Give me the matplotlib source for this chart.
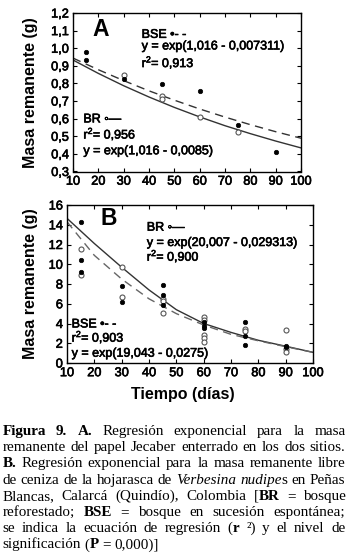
import re
import matplotlib
matplotlib.use('Agg')
import matplotlib.pyplot as plt
import matplotlib.patheffects as pe
from matplotlib.transforms import IdentityTransform
from matplotlib.ticker import FuncFormatter, MultipleLocator

plt.rcParams['font.family'] = ['Liberation Sans', 'DejaVu Sans']
plt.rcParams['mathtext.default'] = 'regular'

# ---------------------------------------------------------------------------
# values
fit_days = [10, 20, 30, 40, 50, 60, 70, 80, 90, 100]

# A: papel Jecaber
a_bse_days = [15, 15, 30, 45, 60, 75, 90]
a_bse_mass = [0.98, 0.935, 0.825, 0.795, 0.755, 0.565, 0.41]
a_br_days = [30, 45, 45, 60, 75]
a_br_mass = [0.85, 0.73, 0.71, 0.61, 0.525]
a_br_fit = [0.933, 0.857, 0.787, 0.723, 0.664, 0.610, 0.560, 0.515, 0.473, 0.434]
a_bse_fit = [0.944, 0.878, 0.816, 0.758, 0.705, 0.655, 0.609, 0.566, 0.526, 0.489]

# B: hojarasca de Verbesina nudipes
b_bse_days = [15, 15, 15, 30, 30, 45, 45, 45, 60, 60, 60, 75, 75, 75, 90, 90]
b_bse_mass = [14.3, 10.4, 9.2, 7.8, 6.15, 7.9, 6.9, 5.9, 4.2, 3.75, 3.5, 4.2, 2.75, 1.8, 1.7, 1.6]
b_br_days = [15, 15, 30, 30, 45, 45, 45, 60, 60, 60, 60, 60, 75, 75, 90, 90, 90]
b_br_mass = [11.5, 8.9, 9.7, 6.7, 6.5, 6.3, 5.1, 4.7, 4.35, 2.8, 2.5, 2.15, 3.45, 3.2, 3.35, 1.4, 1.15]
b_br_fit = [14.65, 12.1, 9.7, 7.4, 5.4, 4.0, 3.1, 2.3, 1.7, 1.08]
b_bse_fit = [14.3, 10.9, 8.5, 6.5, 5.0, 3.85, 2.9, 2.25, 1.65, 1.08]

caption_lines = [
    "**Figura** **9.** **A.** Regresión exponencial para la masa",
    "remanente del papel Jecaber enterrado en los dos sitios.",
    "**B.** Regresión exponencial para la masa remanente libre",
    "de ceniza de la hojarasca de _Verbesina_ _nudipe_s en Peñas",
    "Blancas, Calarcá (Quindío), Colombia [**BR** = bosque",
    "reforestado; **BSE** = bosque en sucesión espontánea;",
    "se indica la ecuación de regresión (**r** ²) y el nivel de",
    "significación (**P** = 0,000)]",
]

W, H = 348, 560
fig = plt.figure(figsize=(W / 100, H / 100), dpi=100)
axA = fig.add_axes([73 / W, (H - 171.5) / H, 228 / W, 158.5 / H])
axB = fig.add_axes([67 / W, (H - 363) / H, 246 / W, 158 / H])

heavy = [pe.withStroke(linewidth=0.45, foreground='black')]
dot = dict(ls='none', marker='o', ms=3.2, mfc='black', mec='black', mew=0.5)
ring = dict(ls='none', marker='o', ms=3.6, mfc='white', mec='#555555', mew=0.8)
txt = dict(fontsize=9, color='black', va='baseline', ha='left', path_effects=heavy)

# ---- panel A
axA.plot(fit_days, a_br_fit, color='#333333', lw=1.0)
axA.plot(fit_days, a_bse_fit, color='#333333', lw=1.0, dashes=(6, 4))
axA.plot(a_br_days, a_br_mass, **ring)
axA.plot(a_bse_days, a_bse_mass, **dot)
axA.set_ylim(0.3, 1.2)
axA.yaxis.set_major_locator(MultipleLocator(0.1))
axA.yaxis.set_major_formatter(FuncFormatter(lambda v, p: f'{v:.1f}'.replace('.', ',')))
axA.text(17.5, 1.069, 'A', fontsize=16.5, fontweight='bold', va='baseline')
axA.text(37.1, 1.059, 'BSE \u2022- -', **txt)
axA.text(37.1, 0.993, 'y = exp(1,016 - 0,007311)', **txt)
axA.text(37.1, 0.893, 'r$^2$= 0,913', **txt)
axA.text(14.1, 0.579, 'BR \u25e6\u2014', **txt)
axA.text(14.1, 0.487, 'r$^2$= 0,956', **txt)
axA.text(14.1, 0.398, 'y = exp(1,016 - 0,0085)', **txt)

# ---- panel B
axB.plot(fit_days, b_br_fit, color='#333333', lw=1.0)
axB.plot(fit_days, b_bse_fit, color='#666666', lw=1.0, dashes=(6, 4))
axB.plot(b_br_days, b_br_mass, **ring)
axB.plot(b_bse_days, b_bse_mass, **dot)
axB.set_ylim(0, 16)
axB.yaxis.set_major_locator(MultipleLocator(2))
axB.text(22.1, 13.97, 'B', fontsize=16.5, fontweight='bold', va='baseline')
axB.text(39.2, 13.4, 'BR \u25e6\u2014', **txt)
axB.text(39.2, 11.85, 'y = exp(20,007 - 0,029313)', **txt)
axB.text(39.2, 10.36, 'r$^2$= 0,900', **txt)
axB.text(11.7, 3.6, 'BSE \u2022- -', **txt)
axB.text(11.7, 2.16, 'r$^2$= 0,903', **txt)
axB.text(11.7, 0.64, 'y = exp(19,043 - 0,0275)', **txt)
axB.set_xlabel('Tiempo (días)', fontsize=11.5, fontweight='bold')
axB.xaxis.set_label_coords(0.47, -0.2)
axB.xaxis.label.set_va('center')

for ax, lx in ((axA, -0.153), (axB, -0.118)):
    ax.set_xlim(10, 100)
    ax.xaxis.set_major_locator(MultipleLocator(10))
    ax.tick_params(direction='in', length=3, width=0.8, top=True, right=True,
                   labelsize=9.2, pad=3)
    for lab in ax.get_xticklabels() + ax.get_yticklabels():
        lab.set_path_effects(heavy)
    for s in ax.spines.values():
        s.set_linewidth(1.0)
    ax.set_ylabel('Masa remanente (g)', fontsize=11.5, fontweight='bold')
    ax.yaxis.set_label_coords(lx, 0.5)

# ---- caption, justified word by word
def runs_of(word):
    out = []
    for b, i, n in re.findall(r'\*\*(.+?)\*\*|_(.+?)_|([^*_]+)', word):
        if b:
            out.append((b, 'bold', 'normal'))
        elif i:
            out.append((i, 'normal', 'italic'))
        else:
            out.append((n, 'normal', 'normal'))
    return out

renderer = fig.canvas.get_renderer()
x_left, x_right = 2.5, 345.5
for k, line in enumerate(caption_lines):
    ybase = H - (435 + 16.2 * k)
    words = []
    for w in line.split(' '):
        pieces = []
        for s, wt, st in runs_of(w):
            t = fig.text(0, ybase, s, transform=IdentityTransform(),
                         family='Liberation Serif', fontsize=10.9,
                         fontweight=wt, fontstyle=st, va='baseline', ha='left')
            pieces.append((t, t.get_window_extent(renderer).width))
        words.append(pieces)
    total = sum(wd for p in words for _, wd in p)
    if k < len(caption_lines) - 1:
        gap = (x_right - x_left - total) / (len(words) - 1)
    else:
        gap = 3.6
    x = x_left
    for p in words:
        for t, wd in p:
            t.set_x(x)
            x += wd
        x += gap

fig.savefig('out.png', dpi=100)
